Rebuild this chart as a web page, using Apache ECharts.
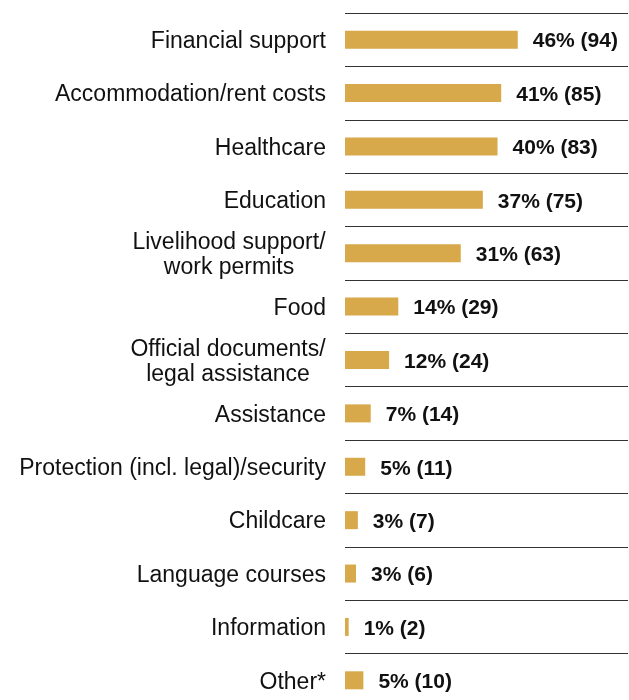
<!DOCTYPE html>
<html><head><meta charset="utf-8">
<script src="https://cdn.jsdelivr.net/npm/echarts@6/dist/echarts.min.js"></script>
<style>html,body{margin:0;padding:0;background:#fff}#c{width:629px;height:700px}</style>
</head><body><div id="c"></div>
<script>
var categories = ["Financial support","Accommodation/rent costs","Healthcare","Education","Livelihood support/\nwork permits","Food","Official documents/\nlegal assistance","Assistance","Protection (incl. legal)/security","Childcare","Language courses","Information","Other*"];
var percents = [46,41,40,37,31,14,12,7,5,3,3,1,5];
var counts = [94,85,83,75,63,29,24,14,11,7,6,2,10];

var catFont = 23;
var fam = 'Liberation Sans, Arial, sans-serif';
var ctx = document.createElement('canvas').getContext('2d');
ctx.font = catFont + 'px ' + fam;
function blockWidth(v){
  return Math.ceil(Math.max.apply(null, v.split('\n').map(function(s){return ctx.measureText(s).width;})));
}

var chart = echarts.init(document.getElementById('c'));
var rich = {};
categories.forEach(function(v,i){
  if (v.indexOf('\n')>=0) rich['m'+i] = {width:blockWidth(v),align:'center',fontSize:catFont,lineHeight:25,fontFamily:fam,color:'#111'};
});
chart.setOption({
  animation:false,
  grid:{left:345,right:1,top:13,height:694,containLabel:false,outerBoundsMode:'none'},
  xAxis:{type:'value',min:0,max:154,show:false},
  yAxis:{type:'category',inverse:true,data:categories,
    axisLine:{show:false},axisTick:{show:false},
    splitLine:{show:true,lineStyle:{color:'#333',width:1}},
    axisLabel:{margin:19,color:'#111',fontFamily:fam,fontSize:catFont,lineHeight:25,
      formatter:function(v,i){ return v.indexOf('\n')>=0 ? '{m'+i+'|'+v+'}' : v; },
      padding:[4,0,0,0],
      rich:rich}
  },
  series:[{type:'bar',data:counts,barWidth:18,itemStyle:{color:'#D7A94B'},
    label:{show:true,position:'right',distance:15,offset:[0,2],color:'#111',fontWeight:'bold',fontSize:21,fontFamily:fam,
      formatter:function(p){return percents[p.dataIndex]+'% ('+counts[p.dataIndex]+')';}}}]
});
</script></body></html>
